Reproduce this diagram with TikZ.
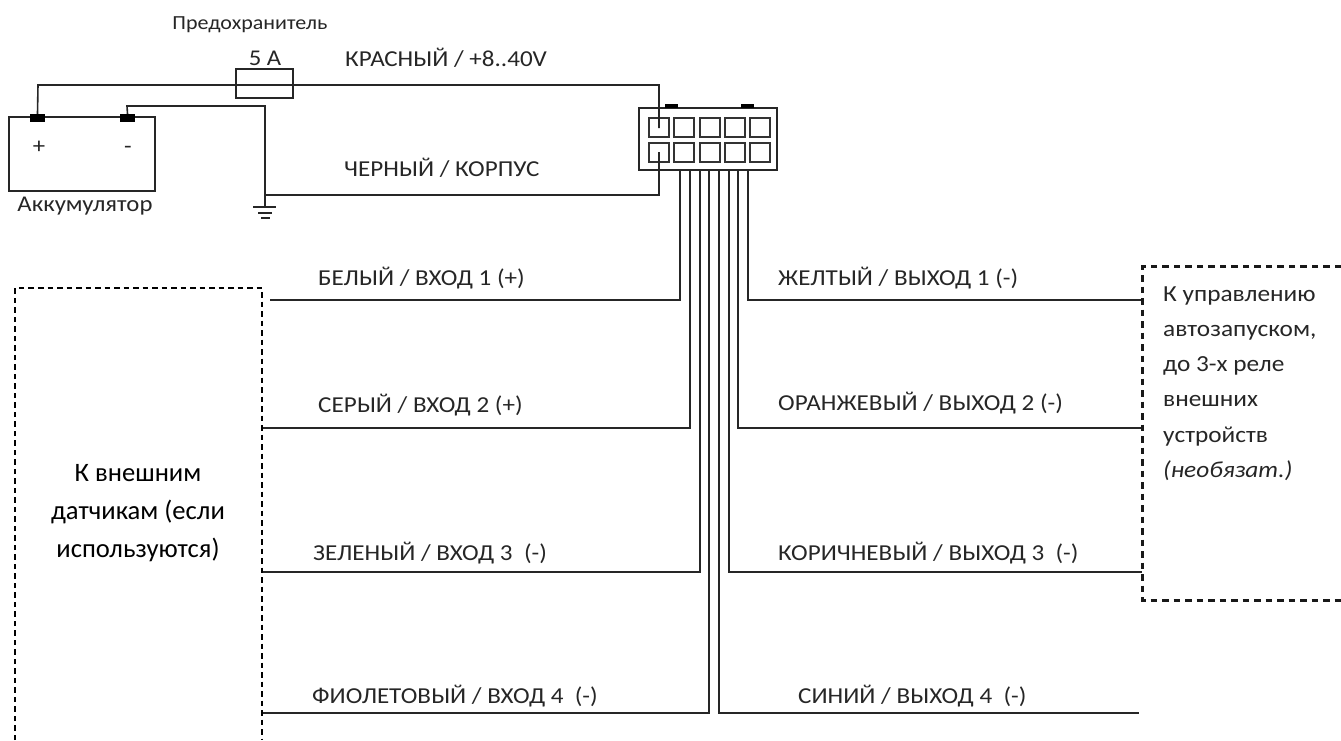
\documentclass[tikz,border=0pt]{standalone}
\usepackage{fontspec}
\setmainfont{Carlito}
\newfontfamily\widefont{Carlito}[FakeStretch=1.1]
\tikzset{
  wire/.style={line width=1.6pt,draw=black!85},
  cellbox/.style={draw=black!80,line width=1.7pt,inner sep=0pt,minimum width=20pt,minimum height=19pt},
  term/.style={fill=black,inner sep=0pt,minimum width=15pt,minimum height=8pt},
  tabbox/.style={fill=black,inner sep=0pt,minimum width=13pt,minimum height=4pt},
  lbl/.style={font=\widefont\fontsize{22.8}{26}\selectfont,text=black!85,anchor=base west,inner sep=0pt},
  ctext/.style={font=\widefont\fontsize{22.5}{26}\selectfont,text=black!85,anchor=base,inner sep=0pt},
  smalltext/.style={font=\widefont\fontsize{20}{24}\selectfont,text=black!85,anchor=base,inner sep=0pt},
  bigtext/.style={font=\fontsize{26.6}{30}\selectfont,text=black,anchor=base,inner sep=0pt},
  sidetext/.style={font=\widefont\fontsize{23}{26}\selectfont,text=black!85,anchor=base west,inner sep=0pt},
  dashL/.style={draw=black,line width=1.7pt,dash pattern=on 5.5pt off 4pt},
  dashR/.style={draw=black!90,line width=2.4pt,dash pattern=on 6.5pt off 5pt}
}
\begin{document}
\begin{tikzpicture}[x=1pt,y=-1pt]
\useasboundingbox (0,0) rectangle (1341,740);
% battery
\node[draw=black!85,line width=1.6pt,inner sep=0pt,minimum width=146pt,minimum height=74pt] (bat) at (82,154) {};
\node[term] (tp) at (37.5,118) {};
\node[term] (tm) at (127.5,118) {};
\node[ctext] (plus) at (39,153) {+};
\node[ctext] (minus) at (128,153) {-};
\node[ctext] (batl) at (85,211) {Аккумулятор};
% fuse
\node[draw=black!85,line width=1.6pt,inner sep=0pt,minimum width=57pt,minimum height=29pt] (fuse) at (264.5,83.5) {};
\node[ctext] (fusel) at (265,65) {5 А};
\node[smalltext] (fuset) at (250,29) {Предохранитель};
% connector
\node[draw=black!85,line width=2pt,inner sep=0pt,minimum width=138pt,minimum height=62pt] (conn) at (708,139) {};
\node[tabbox] (tab1) at (671,106) {};
\node[tabbox] (tab2) at (747.5,106) {};
\foreach \n/\x in {1/659,2/684,3/710,4/735,5/760}{
  \node[cellbox] (a\n) at (\x,127.5) {};
  \node[cellbox] (b\n) at (\x,152.5) {};
}
% ground
\coordinate (gnd) at (265,207);
\coordinate (j) at (265,195);
\coordinate (g1l) at (253,207); \coordinate (g1r) at (276,207);
\coordinate (g2l) at (258,213); \coordinate (g2r) at (272,213);
\coordinate (g3l) at (261,218); \coordinate (g3r) at (270,218);
\draw[wire] (g1l) -- (g1r) (g2l) -- (g2r) (g3l) -- (g3r);
% power wires
\draw[wire] (tp.north) -- (38,85) -- (659,85) -- (659,128);
\draw[wire,line width=2pt] (200,85) -- (328,85);
\draw[wire] (tm.north) -- (127,106) -- (265,106) -- (gnd);
\draw[wire] (j) -- (659,195) -- (659,152);
% signal wires
\foreach \n/\x/\y/\e in {1/680/300/270,2/690/428/263,3/700/572/263,4/709/713/263,5/719/713/1139,6/729/572/1142,7/738/428/1142,8/748/300/1142}{
  \coordinate (s\n) at (\x,170);
  \coordinate (c\n) at (\x,\y);
  \coordinate (e\n) at (\e,\y);
  \draw[wire] (s\n) -- (c\n) -- (e\n);
}
% dashed boxes
\coordinate (la) at (15,740); \coordinate (lb) at (15,288); \coordinate (lc) at (262,288); \coordinate (ld) at (262,740);
\draw[dashL] (la) -- (lb) -- (lc) -- (ld);
\coordinate (ra) at (1341,266.5); \coordinate (rb) at (1142.5,266.5); \coordinate (rc) at (1142.5,600.5); \coordinate (rd) at (1341,600.5);
\draw[dashR] (ra) -- (rb) -- (rc) -- (rd);
% labels
\node[lbl] (t1) at (345,66) {КРАСНЫЙ / +8..40V};
\node[lbl] (t2) at (344,176) {ЧЕРНЫЙ / КОРПУС};
\node[lbl] (t3) at (318,285) {БЕЛЫЙ / ВХОД 1 (+)};
\node[lbl] (t4) at (318,412) {СЕРЫЙ / ВХОД 2 (+)};
\node[lbl] (t5) at (313,560) {ЗЕЛЕНЫЙ / ВХОД 3\ \ (-)};
\node[lbl] (t6) at (312,703) {ФИОЛЕТОВЫЙ / ВХОД 4\ \ (-)};
\node[lbl] (t7) at (778,285) {ЖЕЛТЫЙ / ВЫХОД 1 (-)};
\node[lbl] (t8) at (778,410) {ОРАНЖЕВЫЙ / ВЫХОД 2 (-)};
\node[lbl] (t9) at (778,560) {КОРИЧНЕВЫЙ / ВЫХОД 3\ \ (-)};
\node[lbl] (t10) at (798,703) {СИНИЙ / ВЫХОД 4\ \ (-)};
% left box text
\node[bigtext] (b1) at (138,481) {К внешним};
\node[bigtext] (b2) at (138,519) {датчикам (если};
\node[bigtext] (b3) at (138,557) {используются)};
% right box text
\node[sidetext] (r1) at (1163,301) {К управлению};
\node[sidetext] (r2) at (1163,336) {автозапуском,};
\node[sidetext] (r3) at (1163,371) {до 3-х реле};
\node[sidetext] (r4) at (1163,406) {внешних};
\node[sidetext] (r5) at (1163,442) {устройств};
\node[sidetext] (r6) at (1163,477) {\itshape (необязат.)};
\end{tikzpicture}
\end{document}
